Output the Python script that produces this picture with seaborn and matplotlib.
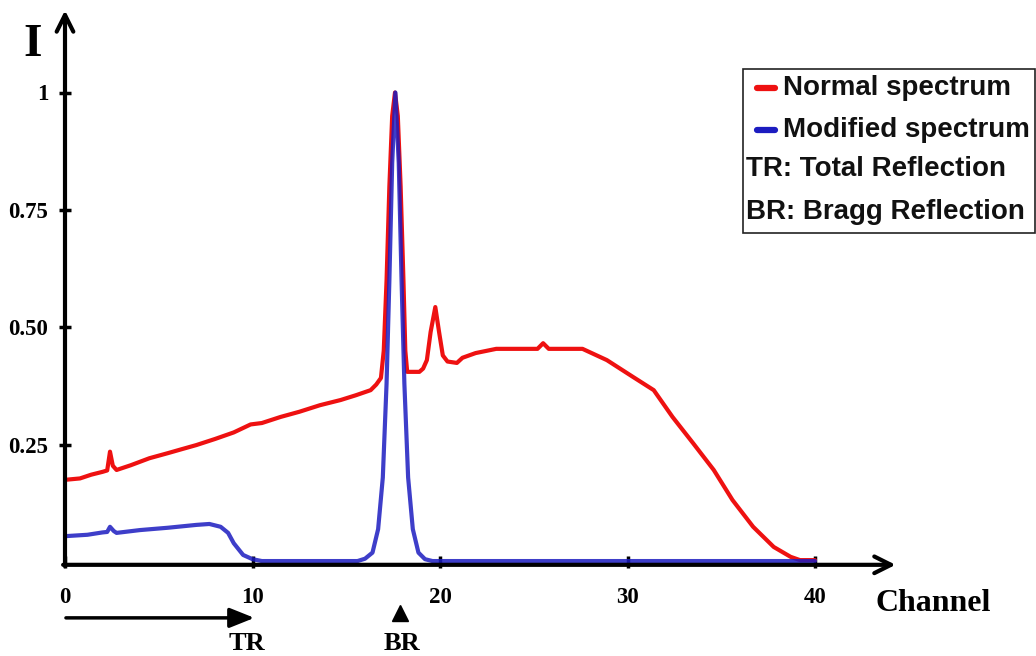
import matplotlib

matplotlib.use("Agg")

import matplotlib.pyplot as plt
import pandas as pd
import seaborn as sns
from matplotlib.lines import Line2D
from matplotlib.patches import Rectangle

# values
normal_x = [0.0, 0.8, 1.4, 2.0, 2.25, 2.4, 2.55, 2.75, 3.5, 4.5, 5.5, 6.2, 7.0, 8.0,
            9.0, 9.9, 10.5, 11.5, 12.5, 13.6, 14.7, 15.5, 16.3, 16.6, 16.85, 17.0,
            17.15, 17.3, 17.45, 17.6, 17.75, 17.9, 18.05, 18.15, 18.25, 18.9, 19.1,
            19.3, 19.5, 19.75, 19.95, 20.15, 20.4, 20.9, 21.2, 21.9, 23.0, 24.5,
            25.2, 25.5, 25.8, 27.6, 28.9, 30.3, 31.4, 32.4, 33.5, 34.6, 35.6, 36.7,
            37.8, 38.7, 39.2, 40.0]
normal_y = [0.175, 0.178, 0.186, 0.192, 0.195, 0.235, 0.205, 0.196, 0.206, 0.221,
            0.232, 0.240, 0.249, 0.262, 0.276, 0.293, 0.296, 0.309, 0.320, 0.334,
            0.345, 0.355, 0.366, 0.378, 0.392, 0.45, 0.6, 0.8, 0.95, 1.0, 0.95,
            0.8, 0.6, 0.45, 0.405, 0.405, 0.412, 0.43, 0.49, 0.543, 0.49, 0.44,
            0.427, 0.424, 0.435, 0.445, 0.454, 0.454, 0.454, 0.466, 0.454, 0.454,
            0.43, 0.394, 0.366, 0.309, 0.253, 0.196, 0.132, 0.075, 0.032, 0.011,
            0.004, 0.004]

modified_x = [0.0, 1.2, 2.0, 2.25, 2.4, 2.6, 2.75, 4.0, 5.5, 7.0, 7.7, 8.3, 8.7,
              9.0, 9.5, 10.0, 10.5, 15.6, 16.0, 16.4, 16.7, 16.95, 17.15, 17.3,
              17.45, 17.62, 17.8, 17.95, 18.1, 18.3, 18.55, 18.85, 19.2, 19.6, 40.0]
modified_y = [0.055, 0.058, 0.063, 0.064, 0.075, 0.066, 0.062, 0.068, 0.073, 0.079,
              0.081, 0.075, 0.062, 0.04, 0.015, 0.006, 0.002, 0.002, 0.007, 0.02,
              0.07, 0.18, 0.38, 0.6, 0.85, 1.0, 0.85, 0.6, 0.38, 0.18, 0.07, 0.02,
              0.006, 0.002, 0.002]

x_ticks = [0, 10, 20, 30, 40]
y_ticks = [0.25, 0.5, 0.75, 1.0]
y_tick_labels = ["0.25", "0.50", "0.75", "1"]

legend_lines = ["Normal spectrum", "Modified spectrum"]
legend_notes = ["TR: Total Reflection", "BR: Bragg Reflection"]

RED = "#ee1111"
BLUE = "#1c1cc0"

sns.set_style("white")
plt.rcParams["font.family"] = ["Liberation Serif", "DejaVu Serif"]
plt.rcParams["text.color"] = "black"
plt.rcParams["axes.labelcolor"] = "black"
plt.rcParams["xtick.color"] = "black"
plt.rcParams["ytick.color"] = "black"

W, H = 1036, 656
fig = plt.figure(figsize=(W / 100, H / 100), dpi=100)
x0_px, y0_px, px_x, px_y = 65, 562, 18.75, 469.5
xmax, ymax = 44.3, 1.175
ax = fig.add_axes([x0_px / W, (H - y0_px) / H, xmax * px_x / W, ymax * px_y / H])

df = pd.concat([
    pd.DataFrame({"channel": normal_x, "I": normal_y, "spectrum": legend_lines[0]}),
    pd.DataFrame({"channel": modified_x, "I": modified_y, "spectrum": legend_lines[1]}),
])

sns.lineplot(data=df[df.spectrum == legend_lines[0]], x="channel", y="I", color=RED,
             lw=3, sort=False, legend=False, ax=ax, clip_on=False)
sns.lineplot(data=df[df.spectrum == legend_lines[1]], x="channel", y="I", color=BLUE,
             lw=3, alpha=0.85, sort=False, legend=False, ax=ax, clip_on=False)

ax.set_xlim(0, xmax)
ax.set_ylim(0, ymax)
for s in ax.spines.values():
    s.set_visible(False)

# axes drawn as arrows
arrow_kw = dict(arrowstyle="->,head_length=0.6,head_width=0.3", lw=3, color="black",
                mutation_scale=20, shrinkA=0, shrinkB=0)
ax.annotate("", xy=(xmax, -0.006), xytext=(-0.1, -0.006), arrowprops=arrow_kw,
            annotation_clip=False)
ax.annotate("", xy=(0, ymax), xytext=(0, -0.009), arrowprops=arrow_kw,
            annotation_clip=False)

tick_font = dict(fontfamily="Liberation Serif", fontweight="bold", fontsize=16.5)
ax.set_xticks(x_ticks)
ax.set_xticklabels([str(t) for t in x_ticks], **tick_font)
ax.set_yticks(y_ticks)
ax.set_yticklabels(y_tick_labels, **tick_font)
ax.tick_params(axis="x", direction="inout", length=8, width=2.5, pad=14, bottom=True)
ax.tick_params(axis="y", direction="inout", length=8, width=2.5, pad=8, left=True)

ax.set_xlabel("Channel", fontsize=23, fontweight="bold", va="center")
ax.xaxis.set_label_coords(1.045, -0.076)
ax.set_ylabel("I", fontsize=34, fontweight="bold", rotation=0, va="center", ha="center")
ax.yaxis.set_label_coords(-0.0385, 0.937)

# TR / BR markers under the axis
ax.annotate("", xy=(10.1, -0.119), xytext=(0.05, -0.119), annotation_clip=False,
            arrowprops=dict(arrowstyle="-|>,head_length=0.75,head_width=0.3", lw=2.5,
                            color="black", mutation_scale=20, shrinkA=0, shrinkB=0))
ax.text(9.7, -0.174, "TR", fontsize=19, fontweight="bold", ha="center", va="center")
ax.plot([17.87], [-0.109], marker="^", ms=12, color="black", clip_on=False)
ax.text(17.95, -0.174, "BR", fontsize=19, fontweight="bold", ha="center", va="center")

# legend box
def fx(px):
    return px / W


def fy(py):
    return (H - py) / H


fig.patches.append(Rectangle((fx(743), fy(233)), fx(1035) - fx(743), fy(69) - fy(233),
                             transform=fig.transFigure, fill=False, ec="#222222", lw=1.2))
leg_font = dict(fontfamily="Liberation Sans", fontweight="bold", fontsize=20,
                color="#111111", va="center", ha="left")
for label, color, py in zip(legend_lines, [RED, BLUE], [88, 130]):
    fig.lines.append(Line2D([fx(757), fx(775)], [fy(py), fy(py)], transform=fig.transFigure,
                            color=color, lw=4.5, solid_capstyle="round"))
    fig.text(fx(783), fy(py), label, **leg_font)
for note, py in zip(legend_notes, [169, 212]):
    fig.text(fx(746), fy(py), note, **leg_font)

fig.savefig("out.png", dpi=100)
plt.close(fig)
